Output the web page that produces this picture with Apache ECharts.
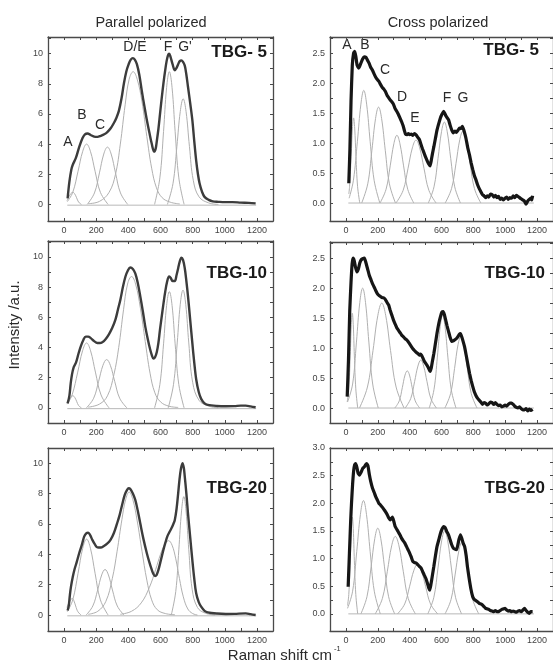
<!DOCTYPE html>
<html>
<head>
<meta charset="utf-8">
<script src="https://cdn.jsdelivr.net/npm/echarts@6/dist/echarts.min.js"></script>
<style>
  html, body { margin: 0; padding: 0; background: #fff; }
  #chart { width: 553px; height: 662px; }
</style>
</head>
<body>
<div id="chart"></div>
<script>
// ---- axis ticks and labels ----
const shiftTicks = [0, 100, 200, 300, 400, 500, 600, 700, 800, 900, 1000, 1100, 1200];
const shiftLabels = [0, 200, 400, 600, 800, 1000, 1200];
const parTicks = [0, 1, 2, 3, 4, 5, 6, 7, 8, 9, 10, 11];
const parLabels = [0, 2, 4, 6, 8, 10];
const crossTicks = [0, 0.25, 0.5, 0.75, 1, 1.25, 1.5, 1.75, 2, 2.25, 2.5, 2.75];
const crossLabels = [0, 0.5, 1, 1.5, 2, 2.5];
const crossTicks20 = [0, 0.25, 0.5, 0.75, 1, 1.25, 1.5, 1.75, 2, 2.25, 2.5, 2.75, 3];
const crossLabels20 = [0, 0.5, 1, 1.5, 2, 2.5, 3];

// ---- TBG-5, parallel polarized ----
const p5Main = [[22,0.4],[33,1.5],[45,2.3],[53,2.6],[74,3.1],[94,3.8],[115,4.4],[130,4.65],[146,4.7],[165,4.6],[187,4.5],[208,4.48],[228,4.55],[250,4.65],[269,4.8],[290,5.05],[310,5.4],[326,5.75],[341,6.2],[357,7.0],[372,8.0],[387,8.8],[402,9.3],[415,9.6],[428,9.7],[440,9.6],[453,9.3],[468,8.6],[484,7.5],[500,6.5],[515,5.6],[530,4.8],[546,4.0],[560,3.5],[570,3.7],[577,4.2],[587,5.0],[597,6.0],[607,7.0],[618,8.0],[628,8.8],[638,9.5],[647,9.9],[654,10.0],[662,9.8],[675,9.3],[689,8.9],[700,9.05],[710,9.3],[720,9.5],[730,9.55],[740,9.45],[751,9.2],[761,8.6],[771,7.8],[785,6.7],[798,5.6],[810,4.2],[822,2.9],[833,2.0],[843,1.4],[858,0.85],[874,0.5],[900,0.3],[925,0.2],[960,0.17],[1000,0.15],[1048,0.15],[1100,0.12],[1150,0.1],[1192,0.07]];
const p5A = [[18,0.25],[30,0.5],[42,0.72],[55,0.8],[66,0.7],[78,0.44],[90,0.16],[108,0]];
const p5B = [[20,0.18],[54,0.8],[87,2.2],[116,3.52],[140,4.0],[164,3.52],[193,2.2],[226,0.8],[274,0]];
const p5C = [[144,0],[189,0.76],[220,2.09],[247,3.34],[270,3.8],[293,3.34],[320,2.09],[351,0.76],[396,0]];
const p5DE = [[150,0.05],[220,0.2],[280,0.8],[320,2.0],[350,4.0],[380,6.6],[405,8.3],[430,8.8],[455,8.3],[485,6.8],[515,4.5],[545,2.4],[575,1.1],[610,0.45],[660,0.15],[720,0.03]];
const p5F = [[563,0],[596,1.76],[619,4.84],[638,7.74],[655,8.8],[672,7.74],[691,4.84],[714,1.76],[747,0]];
const p5G = [[643,0],[678,1.4],[702,3.85],[723,6.16],[741,7.0],[759,6.16],[780,3.85],[804,1.6],[840,0.5],[900,0.1],[960,0]];

// ---- TBG-10, parallel polarized ----
const p10Main = [[22,0.3],[33,0.8],[41,1.6],[49,2.2],[60,2.7],[74,3.0],[90,3.6],[105,4.1],[120,4.5],[135,4.72],[150,4.72],[166,4.62],[187,4.42],[207,4.3],[222,4.3],[238,4.35],[258,4.55],[279,4.87],[300,5.3],[320,5.86],[335,6.5],[351,7.2],[366,8.0],[382,8.7],[397,9.1],[412,9.3],[428,9.2],[443,8.9],[458,8.3],[474,7.4],[490,6.4],[505,5.4],[520,4.6],[535,3.9],[546,3.5],[556,3.27],[566,3.35],[577,3.7],[587,4.3],[597,5.2],[612,6.4],[628,7.6],[642,8.4],[654,8.7],[664,8.6],[675,8.4],[689,8.4],[700,8.8],[710,9.25],[720,9.7],[730,9.95],[740,9.8],[751,9.25],[761,8.4],[771,7.4],[785,5.8],[798,4.3],[810,3.0],[822,1.9],[838,1.05],[853,0.6],[874,0.3],[894,0.2],[950,0.13],[1007,0.11],[1060,0.12],[1100,0.15],[1130,0.15],[1160,0.1],[1192,0.04]];
const p10A = [[18,0.3],[30,0.55],[42,0.74],[55,0.8],[66,0.7],[78,0.44],[90,0.16],[108,0]];
const p10B = [[20,0.25],[50,0.86],[85,2.37],[115,3.78],[140,4.3],[165,3.78],[195,2.37],[230,0.86],[280,0]];
const p10C = [[139,0],[184,0.64],[215,1.76],[242,2.82],[265,3.2],[288,2.82],[315,1.76],[346,0.64],[391,0]];
const p10DE = [[150,0.05],[220,0.25],[270,0.8],[310,2.2],[340,4.0],[370,6.5],[395,8.2],[420,8.7],[445,8.2],[475,6.6],[505,4.4],[535,2.3],[565,1.0],[600,0.4],[650,0.12],[710,0.03]];
const p10F = [[563,0],[596,1.54],[619,4.24],[638,6.78],[655,7.7],[672,6.78],[691,4.24],[714,1.54],[747,0]];
const p10G = [[648,0],[681,1.56],[704,4.3],[723,6.86],[740,7.8],[757,6.86],[776,4.3],[800,1.7],[840,0.5],[900,0.12],[960,0]];

// ---- TBG-20, parallel polarized ----
const p20Main = [[22,0.3],[29,0.6],[36,1.3],[43,1.87],[54,2.5],[64,2.97],[79,3.5],[94,4.07],[110,4.6],[125,5.16],[138,5.38],[150,5.43],[163,5.25],[176,4.95],[192,4.65],[207,4.46],[228,4.45],[248,4.55],[268,4.7],[289,4.95],[310,5.4],[330,6.04],[346,6.6],[361,7.25],[377,7.9],[392,8.24],[402,8.35],[412,8.3],[428,8.0],[443,7.58],[458,6.9],[474,6.04],[494,5.0],[515,4.07],[530,3.5],[546,2.97],[556,2.7],[566,2.57],[576,2.65],[587,2.97],[602,3.6],[618,4.29],[630,4.75],[642,5.16],[655,5.45],[668,5.71],[680,6.0],[689,6.26],[700,7.0],[710,8.02],[718,8.9],[726,9.56],[737,10.0],[745,9.7],[751,9.12],[761,8.0],[771,6.7],[785,5.1],[798,3.63],[810,2.4],[822,1.43],[838,0.85],[853,0.55],[874,0.28],[894,0.18],[950,0.1],[1007,0.07],[1060,0.08],[1130,0.11],[1160,0.06],[1192,0.0]];
const p20A = [[18,0.5],[28,0.75],[40,0.97],[50,1.1],[60,0.97],[72,0.6],[86,0.22],[106,0]];
const p20B = [[20,0.22],[54,1.0],[87,2.75],[116,4.4],[140,5.0],[164,4.4],[193,2.75],[226,1.0],[274,0]];
const p20C = [[137,0],[179,0.6],[209,1.65],[234,2.64],[255,3.0],[276,2.64],[301,1.65],[331,0.6],[373,0]];
const p20DE = [[150,0.05],[210,0.25],[260,0.9],[300,2.4],[330,4.2],[360,6.3],[383,7.6],[405,8.1],[428,7.6],[455,6.2],[485,4.2],[515,2.3],[545,1.0],[580,0.35],[630,0.1],[690,0.02]];
const p20F = [[350,0.05],[420,0.25],[480,0.8],[530,1.8],[570,3.0],[600,4.0],[625,4.6],[650,4.9],[672,4.6],[695,3.7],[718,2.4],[742,1.2],[770,0.4],[800,0.1],[830,0]];
const p20G = [[667,0],[695,1.56],[714,4.3],[731,6.86],[745,7.8],[759,6.86],[776,4.3],[797,1.7],[830,0.5],[880,0.12],[940,0]];

// ---- TBG-5, cross polarized ----
const c5Main = [[18,0.33],[25,0.9],[32,1.7],[40,2.3],[48,2.5],[55,2.53],[62,2.45],[70,2.3],[81,2.25],[92,2.32],[104,2.4],[115,2.44],[126,2.43],[136,2.38],[146,2.33],[156,2.26],[166,2.22],[176,2.16],[187,2.1],[197,2.06],[207,2.03],[217,1.98],[228,1.93],[238,1.9],[248,1.86],[258,1.8],[268,1.76],[278,1.72],[288,1.69],[298,1.65],[308,1.58],[319,1.53],[329,1.48],[339,1.42],[349,1.36],[360,1.28],[368,1.2],[374,1.15],[384,1.14],[392,1.16],[400,1.14],[410,1.15],[420,1.13],[430,1.16],[440,1.14],[450,1.1],[461,1.06],[471,0.98],[481,0.9],[491,0.83],[501,0.76],[511,0.7],[520,0.65],[528,0.62],[535,0.7],[543,0.82],[552,0.94],[562,1.08],[572,1.22],[583,1.33],[593,1.42],[603,1.48],[613,1.53],[620,1.5],[628,1.45],[636,1.42],[644,1.39],[654,1.3],[664,1.22],[674,1.17],[684,1.2],[694,1.18],[705,1.22],[713,1.25],[721,1.24],[731,1.28],[740,1.22],[748,1.14],[755,1.06],[765,0.92],[776,0.8],[786,0.67],[796,0.56],[806,0.46],[816,0.39],[826,0.31],[837,0.24],[847,0.19],[857,0.14],[867,0.12],[877,0.09],[887,0.12],[897,0.1],[907,0.15],[918,0.14],[928,0.1],[938,0.13],[948,0.09],[958,0.11],[968,0.06],[978,0.08],[989,0.05],[999,0.08],[1009,0.1],[1019,0.06],[1029,0.09],[1040,0.08],[1050,0.12],[1060,0.09],[1070,0.13],[1080,0.11],[1090,0.09],[1100,0.07],[1111,0.05],[1121,0.03],[1131,-0.02],[1141,0.03],[1151,0.06],[1161,0.08],[1167,0.05],[1172,0.12]];
const c5A = [[18,0.15],[23,0.28],[33,0.78],[41,1.25],[48,1.42],[55,1.25],[63,0.78],[73,0.28],[87,0]];
const c5B = [[20,0.08],[47,0.38],[72,1.03],[94,1.65],[112,1.88],[130,1.65],[152,1.03],[177,0.38],[213,0]];
const c5C = [[99,0],[137,0.32],[163,0.88],[186,1.41],[205,1.6],[224,1.41],[247,0.88],[273,0.32],[311,0]];
const c5D = [[214,0],[252,0.23],[278,0.62],[301,0.99],[320,1.13],[339,0.99],[362,0.62],[388,0.23],[426,0]];
const c5E = [[314,0],[359,0.21],[390,0.58],[417,0.92],[440,1.05],[463,0.92],[490,0.58],[521,0.21],[566,0]];
const c5F = [[517,0],[553,0.27],[578,0.74],[600,1.19],[618,1.35],[636,1.19],[658,0.74],[683,0.27],[719,0]];
const c5G = [[623,0],[663,0.24],[691,0.66],[715,1.06],[735,1.2],[755,1.06],[779,0.66],[807,0.24],[847,0]];

// ---- TBG-10, cross polarized ----
const c10Main = [[8,0.19],[16,0.8],[24,1.63],[32,2.1],[39,2.41],[45,2.5],[52,2.46],[60,2.35],[69,2.27],[78,2.32],[87,2.42],[95,2.47],[105,2.49],[116,2.5],[126,2.42],[136,2.32],[146,2.22],[156,2.15],[166,2.08],[177,2.02],[187,1.96],[197,1.91],[207,1.88],[217,1.86],[228,1.84],[238,1.84],[248,1.81],[258,1.76],[268,1.72],[278,1.63],[288,1.55],[298,1.47],[309,1.4],[319,1.34],[329,1.3],[339,1.26],[349,1.22],[360,1.19],[370,1.16],[380,1.14],[390,1.11],[400,1.07],[410,1.03],[420,0.99],[430,0.96],[441,0.93],[451,0.91],[461,0.88],[468,0.9],[475,0.88],[482,0.84],[492,0.78],[502,0.74],[512,0.7],[520,0.66],[528,0.61],[535,0.66],[543,0.78],[552,0.91],[562,1.08],[572,1.25],[583,1.41],[593,1.52],[603,1.6],[611,1.61],[619,1.55],[627,1.46],[634,1.38],[644,1.28],[654,1.18],[664,1.11],[674,1.12],[684,1.14],[694,1.16],[705,1.2],[712,1.23],[719,1.24],[728,1.18],[737,1.1],[745,1.02],[755,0.88],[766,0.72],[776,0.58],[786,0.46],[796,0.36],[806,0.27],[816,0.21],[827,0.16],[837,0.13],[847,0.1],[857,0.06],[867,0.09],[877,0.08],[887,0.05],[897,0.07],[907,0.1],[918,0.09],[928,0.06],[938,0.09],[948,0.06],[958,0.04],[968,0.05],[979,0.02],[989,0.03],[999,0.05],[1009,0.03],[1019,0.06],[1029,0.08],[1040,0.08],[1050,0.06],[1060,0.03],[1070,0.01],[1080,0.0],[1090,0.02],[1100,-0.01],[1111,-0.03],[1121,-0.03],[1131,-0.01],[1141,-0.05],[1151,-0.02],[1161,-0.04],[1172,-0.02]];
const c10A = [[8,0.1],[18,0.32],[27,0.87],[34,1.39],[40,1.58],[46,1.39],[53,0.87],[62,0.32],[74,0]];
const c10B = [[10,0.1],[42,0.4],[66,1.1],[87,1.76],[105,2.0],[123,1.76],[144,1.1],[168,0.4],[203,0]];
const c10C = [[85,0],[135,0.35],[170,0.96],[200,1.54],[225,1.75],[250,1.54],[280,0.96],[315,0.35],[365,0]];
const c10D = [[307,0],[335,0.12],[354,0.34],[371,0.55],[385,0.62],[399,0.55],[416,0.34],[435,0.12],[463,0]];
const c10E = [[372,0],[407,0.16],[431,0.44],[452,0.7],[470,0.8],[488,0.7],[509,0.44],[533,0.16],[568,0]];
const c10F = [[523,0],[553,0.31],[574,0.85],[592,1.36],[607,1.55],[622,1.36],[640,0.85],[661,0.31],[691,0]];
const c10G = [[621,0],[657,0.24],[682,0.66],[704,1.06],[722,1.2],[740,1.06],[762,0.66],[787,0.24],[823,0]];

// ---- TBG-20, cross polarized ----
const c20Main = [[14,0.49],[22,1.1],[30,1.7],[35,2.0],[42,2.35],[49,2.6],[55,2.7],[61,2.72],[68,2.66],[76,2.55],[85,2.51],[95,2.56],[105,2.63],[116,2.66],[124,2.7],[130,2.72],[138,2.68],[147,2.52],[156,2.39],[166,2.28],[177,2.2],[187,2.12],[197,2.06],[207,2.0],[217,1.97],[228,1.93],[238,1.89],[248,1.85],[258,1.8],[268,1.74],[278,1.7],[285,1.72],[292,1.75],[300,1.68],[309,1.58],[319,1.53],[329,1.48],[339,1.43],[349,1.37],[360,1.32],[370,1.28],[380,1.22],[390,1.16],[400,1.1],[410,1.03],[420,0.95],[430,0.93],[441,0.92],[451,0.89],[461,0.86],[471,0.83],[481,0.77],[492,0.7],[502,0.64],[512,0.55],[520,0.47],[526,0.43],[533,0.52],[543,0.7],[552,0.86],[562,1.05],[572,1.22],[583,1.34],[593,1.45],[603,1.53],[613,1.58],[623,1.56],[633,1.49],[644,1.43],[654,1.34],[664,1.25],[674,1.19],[684,1.17],[694,1.16],[702,1.24],[710,1.35],[719,1.43],[728,1.36],[737,1.27],[745,1.22],[755,1.05],[763,0.85],[772,0.67],[784,0.46],[796,0.31],[806,0.26],[816,0.24],[826,0.22],[837,0.19],[847,0.18],[857,0.16],[867,0.13],[877,0.1],[887,0.09],[897,0.08],[907,0.06],[918,0.05],[928,0.04],[938,0.06],[948,0.04],[958,0.04],[968,0.06],[979,0.08],[989,0.09],[999,0.1],[1009,0.07],[1019,0.05],[1029,0.06],[1040,0.04],[1050,0.05],[1060,0.04],[1070,0.03],[1080,0.05],[1090,0.06],[1100,0.04],[1111,0.07],[1121,0.1],[1131,0.06],[1141,0.03],[1151,0.01],[1161,0.04],[1172,0.04]];
const c20A = [[10,0.15],[18,0.35],[27,0.96],[34,1.54],[40,1.75],[46,1.54],[53,0.96],[62,0.35],[74,0]];
const c20B = [[10,0.1],[42,0.41],[68,1.13],[91,1.8],[110,2.05],[129,1.8],[152,1.13],[178,0.41],[216,0]];
const c20C = [[94,0],[132,0.31],[158,0.85],[181,1.36],[200,1.55],[219,1.36],[242,0.85],[268,0.31],[306,0]];
const c20D = [[184,0],[229,0.28],[260,0.77],[287,1.23],[310,1.4],[333,1.23],[360,0.77],[391,0.28],[436,0]];
const c20E = [[324,0],[369,0.18],[400,0.5],[427,0.79],[450,0.9],[473,0.79],[500,0.5],[531,0.18],[576,0]];
const c20F = [[514,0],[552,0.3],[578,0.83],[601,1.32],[620,1.5],[639,1.32],[662,0.83],[688,0.3],[726,0]];
const c20G = [[622,0],[660,0.26],[686,0.72],[709,1.14],[728,1.3],[747,1.14],[770,0.72],[796,0.26],[834,0]];

// fit baselines
const parBase = [[20, -0.05], [1195, -0.05]];
const crossBase = [[15, 0], [1180, 0]];

// ---- layout of the six panels ----
const panels = [
  { grid: { left: 48, top: 37, width: 225, height: 184 }, yMin: -1.1, yMax: 11.1, ticks: parTicks, labels: parLabels, digits: 0,
    main: p5Main, comps: [p5A, p5B, p5C, p5DE, p5F, p5G], base: parBase, cross: false },
  { grid: { left: 48, top: 241, width: 225, height: 182 }, yMin: -1.0, yMax: 11.05, ticks: parTicks, labels: parLabels, digits: 0,
    main: p10Main, comps: [p10A, p10B, p10C, p10DE, p10F, p10G], base: parBase, cross: false },
  { grid: { left: 48, top: 448, width: 225, height: 183 }, yMin: -1.05, yMax: 11.0, ticks: parTicks, labels: parLabels, digits: 0,
    main: p20Main, comps: [p20A, p20B, p20C, p20DE, p20F, p20G], base: parBase, cross: false },
  { grid: { left: 330, top: 37, width: 229, height: 184 }, yMin: -0.3, yMax: 2.77, ticks: crossTicks, labels: crossLabels, digits: 1,
    main: c5Main, comps: [c5A, c5B, c5C, c5D, c5E, c5F, c5G], base: crossBase, cross: true },
  { grid: { left: 330, top: 242, width: 229, height: 181 }, yMin: -0.25, yMax: 2.77, ticks: crossTicks, labels: crossLabels, digits: 1,
    main: c10Main, comps: [c10A, c10B, c10C, c10D, c10E, c10F, c10G], base: crossBase, cross: true },
  { grid: { left: 330, top: 448, width: 229, height: 183 }, yMin: -0.31, yMax: 3.0, ticks: crossTicks20, labels: crossLabels20, digits: 1,
    main: c20Main, comps: [c20A, c20B, c20C, c20D, c20E, c20F, c20G], base: crossBase, cross: true }
];

const FONT = 'Liberation Sans, Arial, sans-serif';
const frameColor = '#4a4a4a';
const grids = [], xAxes = [], yAxes = [], series = [];

panels.forEach((p, i) => {
  grids.push(Object.assign({}, p.grid));
  const line = { show: true, onZero: false, lineStyle: { color: frameColor, width: 1.3 } };
  const tick = (vals) => ({ show: true, inside: true, length: 3, customValues: vals, lineStyle: { color: frameColor, width: 1 } });
  // bottom and top shift axes
  xAxes.push({ gridIndex: i, type: 'value', min: -100, max: 1300, axisLine: line, splitLine: { show: false },
    axisTick: tick(shiftTicks),
    axisLabel: { customValues: shiftLabels, fontSize: 9, color: '#444', margin: 5, fontFamily: FONT,
      formatter: (v) => String(Math.round(v)) } });
  xAxes.push({ gridIndex: i, type: 'value', position: 'top', min: -100, max: 1300, axisLine: line, splitLine: { show: false },
    axisTick: tick(shiftTicks), axisLabel: { show: false } });
  // left and right intensity axes
  yAxes.push({ gridIndex: i, type: 'value', min: p.yMin, max: p.yMax, axisLine: line, splitLine: { show: false },
    axisTick: tick(p.ticks),
    axisLabel: { customValues: p.labels, fontSize: 9, color: '#444', margin: 5, fontFamily: FONT,
      formatter: (v) => Number(v).toFixed(p.digits) } });
  yAxes.push({ gridIndex: i, type: 'value', position: 'right', min: p.yMin, max: p.yMax, axisLine: line, splitLine: { show: false },
    axisTick: tick(p.ticks), axisLabel: { show: false } });

  const xi = 2 * i, yi = 2 * i;
  series.push({ type: 'line', xAxisIndex: xi, yAxisIndex: yi, data: p.base, showSymbol: false, silent: true,
    lineStyle: { color: '#b8b8b8', width: 1 }, z: 1 });
  p.comps.forEach((c) => {
    series.push({ type: 'line', xAxisIndex: xi, yAxisIndex: yi, data: c, showSymbol: false, silent: true,
      smooth: 0.4, lineStyle: { color: '#b0b0b0', width: 1 }, z: 2 });
  });
  series.push({ type: 'line', xAxisIndex: xi, yAxisIndex: yi, data: p.main, showSymbol: false, silent: true,
    smooth: p.cross ? 0.15 : 0.35,
    lineStyle: p.cross ? { color: '#161616', width: 3.2 } : { color: '#3c3c3c', width: 2.4 }, z: 3 });
});

// text elements
const txt = (x, y, text, size, extra) => ({
  type: 'text', x: x, y: y, silent: true,
  style: Object.assign({ text: text, fontSize: size, fontFamily: FONT, fill: '#2a2a2a', align: 'center', verticalAlign: 'middle' }, extra || {})
});
const bold = { align: 'right', fontWeight: 'bold', fill: '#1a1a1a' };
const graphic = [
  txt(151, 23, 'Parallel polarized', 14.5),
  txt(438, 23, 'Cross polarized', 14.5),
  Object.assign(txt(0, 0, 'Intensity /a.u.', 15), { x: 15, y: 325, rotation: Math.PI / 2 }),
  txt(332, 656, 'Raman shift cm', 15, { align: 'right' }),
  txt(334, 649, '-1', 7.5, { align: 'left' }),
  // sample names
  txt(267, 52, 'TBG- 5', 17, bold),
  txt(267, 273, 'TBG-10', 17, bold),
  txt(267, 488, 'TBG-20', 17, bold),
  txt(539, 50, 'TBG- 5', 17, bold),
  txt(545, 273, 'TBG-10', 17, bold),
  txt(545, 488, 'TBG-20', 17, bold),
  // band letters, parallel
  txt(68, 142, 'A', 14), txt(82, 115, 'B', 14), txt(100, 125, 'C', 14),
  txt(135, 47, 'D/E', 14), txt(168, 47, 'F', 14), txt(185, 47, "G'", 14),
  // band letters, cross
  txt(347, 45, 'A', 14), txt(365, 45, 'B', 14), txt(385, 70, 'C', 14),
  txt(402, 97, 'D', 14), txt(415, 118, 'E', 14), txt(447, 98, 'F', 14), txt(463, 98, 'G', 14)
];

const chart = echarts.init(document.getElementById('chart'), null, { renderer: 'canvas' });
chart.setOption({
  animation: false,
  backgroundColor: '#ffffff',
  grid: grids,
  xAxis: xAxes,
  yAxis: yAxes,
  series: series,
  graphic: graphic
});
</script>
</body>
</html>
